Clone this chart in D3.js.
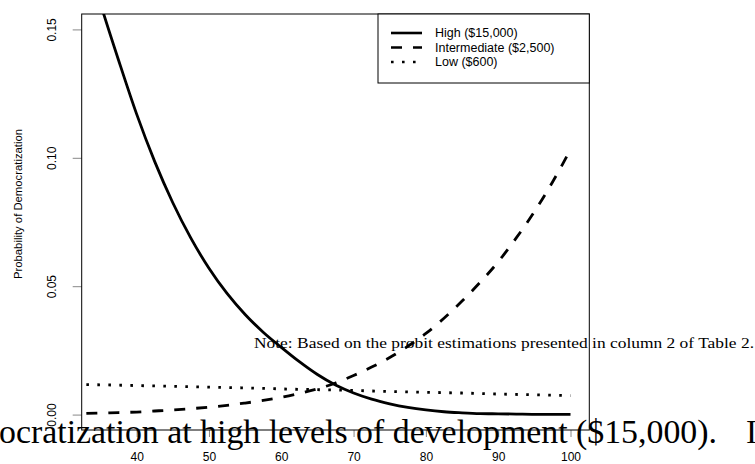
<!DOCTYPE html>
<html>
<head>
<meta charset="utf-8">
<script src="https://cdn.jsdelivr.net/npm/d3@7"></script>
<style>
  body { margin: 0; background: #fff; }
  svg { display: block; }
</style>
</head>
<body>
<div id="graph_draw"></div>
<script>
// values
var levelX = [30, 32.5, 35, 37.5, 40, 42.5, 45, 47.5, 50, 52.5, 55, 57.5, 60, 62.5, 65,
              67.5, 70, 72.5, 75, 77.5, 80, 82.5, 85, 87.5, 90, 92.5, 95, 97.5, 100];
var highP = [0.212, 0.184, 0.160, 0.138, 0.117, 0.0985, 0.0825, 0.0687, 0.0570, 0.0472, 0.0390,
             0.0321, 0.0262, 0.0206, 0.0156, 0.0115, 0.0084, 0.0060, 0.0042, 0.0028, 0.0018,
             0.0011, 0.0007, 0.0004, 0.0003, 0.0002, 0.0001, 0.0001, 0.0001];
var interP = [0.0003, 0.0004, 0.0006, 0.0008, 0.0010, 0.0014, 0.0018, 0.0023, 0.0029, 0.0036,
              0.0045, 0.0055, 0.0067, 0.0082, 0.0100, 0.0123, 0.0152, 0.0185, 0.0222, 0.0266,
              0.0316, 0.0375, 0.0442, 0.0515, 0.0595, 0.0688, 0.0790, 0.0905, 0.1032];
var lowX = [30, 35, 40, 45, 50, 55, 60, 65, 70, 75, 80, 85, 90, 95, 100];
var lowP = [0.0118, 0.0116, 0.0113, 0.0110, 0.0107, 0.0104, 0.0100, 0.0097, 0.0094, 0.0090,
            0.0087, 0.0084, 0.0080, 0.0077, 0.0074];

var xTicks = [40, 50, 60, 70, 80, 90, 100];
var yTicks = [0.00, 0.05, 0.10, 0.15];
var legendLabels = ["High ($15,000)", "Intermediate ($2,500)", "Low ($600)"];
var yTitle = "Probability of Democratization";
var noteText = "Note: Based on the probit estimations presented in column 2 of Table 2.";
var pageText = "ocratization at high levels of development ($15,000).";
var pageText2 = "I";

// plot region (R style: 4% padding around xlim 35-100, ylim 0-0.15)
var W = 755, H = 464;
var pLeft = 81.7, pRight = 589.3, pTop = 14, pBottom = 430;
var sans = "Liberation Sans, Arial, sans-serif";

var x = d3.scaleLinear().domain([32.4, 102.6]).range([pLeft, pRight]);
var y = d3.scaleLinear().domain([-0.006, 0.156]).range([pBottom, pTop]);

var svg = d3.select("#graph_draw").append("svg")
    .attr("width", W)
    .attr("height", H);

svg.append("rect").attr("width", W).attr("height", H).attr("fill", "#fff");

svg.append("clipPath").attr("id", "plotclip")
  .append("rect")
    .attr("x", pLeft).attr("y", pTop)
    .attr("width", pRight - pLeft).attr("height", pBottom - pTop);

var series = [
  {xs: levelX, ys: highP, dash: null},
  {xs: levelX, ys: interP, dash: "11,11"},
  {xs: lowX, ys: lowP, dash: "2.6,8.4"}
];

var line = d3.line()
    .x(function(d) { return x(d[0]); })
    .y(function(d) { return y(d[1]); })
    .curve(d3.curveMonotoneX);

var plot = svg.append("g").attr("clip-path", "url(#plotclip)");
series.forEach(function(s) {
  plot.append("path")
    .datum(d3.zip(s.xs, s.ys))
    .attr("d", line)
    .attr("fill", "none")
    .attr("stroke", "#000")
    .attr("stroke-width", 2.8)
    .attr("stroke-dasharray", s.dash);
});

// axes
var yAxis = svg.append("g")
    .attr("transform", "translate(" + pLeft + ",0)")
    .call(d3.axisLeft(y).tickValues(yTicks).tickFormat(d3.format(".2f")).tickSize(9).tickPadding(0))
    .attr("font-family", sans)
    .attr("font-size", 12);
yAxis.select(".domain").remove();
yAxis.selectAll(".tick line").attr("stroke", "#888");
yAxis.selectAll(".tick text")
    .attr("fill", "#000")
    .attr("text-anchor", "middle")
    .attr("x", 0).attr("dy", 0)
    .attr("transform", "translate(-26,0) rotate(-90)");

var xAxis = svg.append("g")
    .attr("transform", "translate(0," + pBottom + ")")
    .call(d3.axisBottom(x).tickValues(xTicks).tickSize(7).tickPadding(8))
    .attr("font-family", sans)
    .attr("font-size", 12);
xAxis.select(".domain").remove();
xAxis.selectAll(".tick line").attr("stroke", "#888");
xAxis.selectAll(".tick text")
    .attr("fill", "#000")
    .attr("y", 31).attr("dy", 0);

// box
svg.append("rect")
    .attr("x", pLeft).attr("y", pTop)
    .attr("width", pRight - pLeft).attr("height", pBottom - pTop)
    .attr("fill", "none").attr("stroke", "#000").attr("stroke-width", 1);

svg.append("text")
    .attr("transform", "translate(22,204) rotate(-90)")
    .attr("text-anchor", "middle")
    .attr("font-family", sans)
    .attr("font-size", 11.3)
    .text(yTitle);

// legend
var lg = svg.append("g");
lg.append("rect")
    .attr("x", 378).attr("y", pTop)
    .attr("width", pRight - 378).attr("height", 69)
    .attr("fill", "#fff").attr("stroke", "#000").attr("stroke-width", 1);
legendLabels.forEach(function(lab, i) {
  var yy = 33 + i * 14.5;
  lg.append("line")
    .attr("x1", 391).attr("x2", 422)
    .attr("y1", yy).attr("y2", yy)
    .attr("stroke", "#000").attr("stroke-width", 2.6)
    .attr("stroke-dasharray", series[i].dash);
  lg.append("text")
    .attr("x", 435).attr("y", yy + 4.3)
    .attr("font-family", sans)
    .attr("font-size", 12.5)
    .text(lab);
});

// text of the scanned page lying over the figure
svg.append("text")
    .attr("x", 254).attr("y", 348)
    .attr("font-family", "Liberation Serif, serif")
    .attr("font-size", 15.5)
    .attr("textLength", 500).attr("lengthAdjust", "spacingAndGlyphs")
    .text(noteText);

svg.append("text")
    .attr("x", -1).attr("y", 443)
    .attr("font-family", "Liberation Serif, serif")
    .attr("font-size", 33)
    .attr("textLength", 718).attr("lengthAdjust", "spacingAndGlyphs")
    .text(pageText);

svg.append("text")
    .attr("x", 746).attr("y", 443)
    .attr("font-family", "Liberation Serif, serif")
    .attr("font-size", 33)
    .text(pageText2);
</script>
</body>
</html>
